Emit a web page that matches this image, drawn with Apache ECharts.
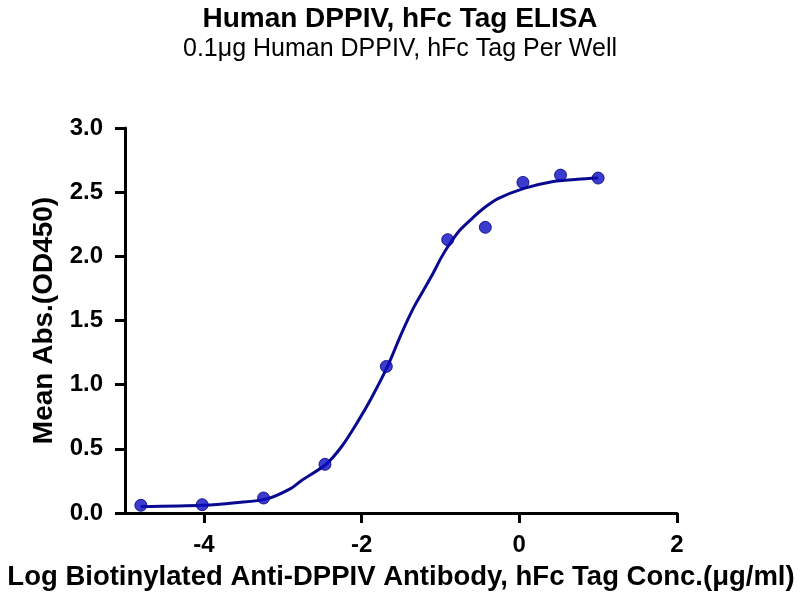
<!DOCTYPE html>
<html>
<head>
<meta charset="utf-8">
<script src="https://cdn.jsdelivr.net/npm/echarts@6/dist/echarts.min.js"></script>
<style>html,body{margin:0;padding:0;background:#fff;}#c{width:800px;height:600px;}</style>
</head>
<body>
<div id="c"></div>
<script>
// Measured points: log concentration vs mean absorbance
const logConc = [-4.799, -4.021, -3.243, -2.464, -1.686, -0.908, -0.431, 0.046, 0.523, 1.0];
const meanAbs = [0.060, 0.065, 0.117, 0.379, 1.142, 2.130, 2.226, 2.576, 2.633, 2.610];
// Fitted curve
const fitX = [-4.8, -4.0, -3.6, -3.2, -2.9, -2.77, -2.45, -2.25, -2.05, -1.88, -1.68, -1.5, -1.34, -1.22, -1.10, -0.99, -0.89, -0.76, -0.59, -0.44, -0.27, 0.06, 0.4, 0.74, 1.0];
const fitY = [0.05, 0.06, 0.08, 0.11, 0.19, 0.25, 0.38, 0.52, 0.71, 0.89, 1.13, 1.39, 1.60, 1.73, 1.86, 1.99, 2.09, 2.20, 2.30, 2.38, 2.45, 2.53, 2.58, 2.60, 2.61];
const xTicks = [-4, -2, 0, 2];

const FONT = 'Arial, "Liberation Sans", sans-serif';
const chart = echarts.init(document.getElementById('c'), null, {renderer: 'canvas'});
chart.setOption({
  animation: false,
  backgroundColor: '#fff',
  title: [
    {text: 'Human DPPIV, hFc Tag ELISA', left: 'center', top: 0,
     textStyle: {fontFamily: FONT, fontSize: 28, fontWeight: 'bold', color: '#000'}},
    {text: '0.1μg Human DPPIV, hFc Tag Per Well', left: 'center', top: 32,
     textStyle: {fontFamily: FONT, fontSize: 25, fontWeight: 'normal', color: '#000'}}
  ],
  grid: {left: 125, right: 123, top: 128, bottom: 87, containLabel: false},
  xAxis: {
    type: 'value', min: -5, max: 2,
    name: 'Log Biotinylated Anti-DPPIV Antibody, hFc Tag Conc.(μg/ml)',
    nameLocation: 'middle', nameGap: 50,
    nameTextStyle: {fontFamily: FONT, fontSize: 27.5, fontWeight: 'bold', color: '#000'},
    axisLine: {show: true, onZero: false, lineStyle: {color: '#000', width: 3}},
    axisTick: {show: true, length: 10, lineStyle: {color: '#000', width: 3}, customValues: xTicks},
    axisLabel: {customValues: xTicks, margin: 20, fontFamily: FONT, fontSize: 24, fontWeight: 'bold', color: '#000'},
    splitLine: {show: false}
  },
  yAxis: {
    type: 'value', min: 0, max: 3, interval: 0.5,
    name: 'Mean Abs.(OD450)', nameLocation: 'middle', nameGap: 64,
    nameTextStyle: {fontFamily: FONT, fontSize: 28, fontWeight: 'bold', color: '#000'},
    axisLine: {show: true, onZero: false, lineStyle: {color: '#000', width: 3}},
    axisTick: {show: true, length: 10, lineStyle: {color: '#000', width: 3}},
    axisLabel: {margin: 22, fontFamily: FONT, fontSize: 24, fontWeight: 'bold', color: '#000',
      formatter: v => v.toFixed(1)},
    splitLine: {show: false}
  },
  series: [
    {type: 'line', data: fitX.map((x, i) => [x, fitY[i]]), smooth: 0.3,
     showSymbol: false, lineStyle: {color: '#0a0a90', width: 3}, z: 2},
    {type: 'scatter', data: logConc.map((x, i) => [x, meanAbs[i]]), symbol: 'circle', symbolSize: 12,
     itemStyle: {color: '#0a0ac0', borderColor: '#00007a', borderWidth: 1}, z: 3}
  ]
});
</script>
</body>
</html>
